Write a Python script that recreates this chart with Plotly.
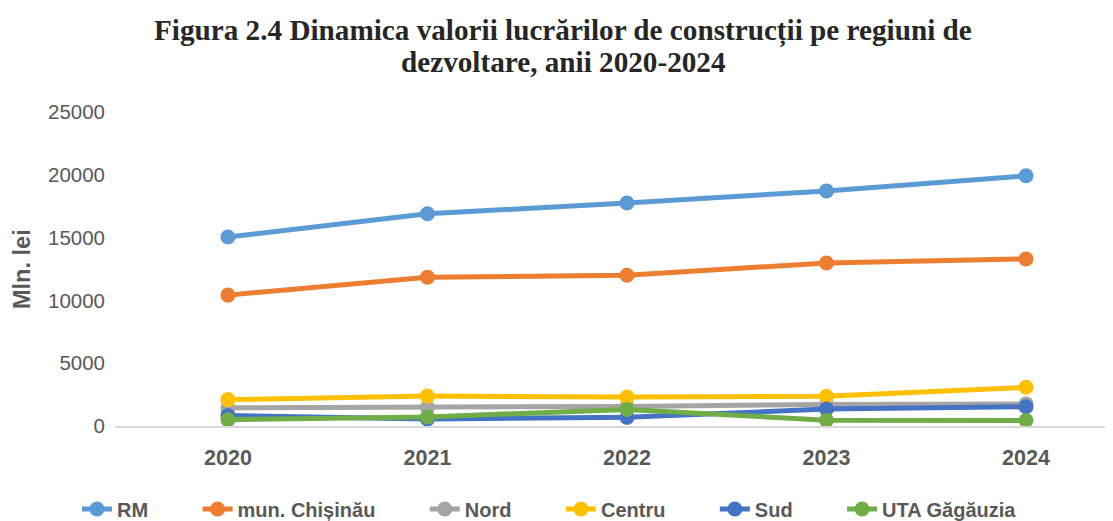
import plotly.graph_objects as go

# ── Data ──────────────────────────────────────────────────────────────────────
years = [2020, 2021, 2022, 2023, 2024]
rm = [15050, 16900, 17750, 18720, 19920]
chisinau = [10420, 11850, 12000, 12980, 13300]
nord = [1450, 1460, 1560, 1720, 1760]
centru = [2100, 2380, 2300, 2360, 3080]
sud = [830, 560, 690, 1350, 1530]
uta = [500, 720, 1320, 460, 440]

series = [
    ("RM", rm, "#5B9BD5"),
    ("mun. Chișinău", chisinau, "#ED7D31"),
    ("Nord", nord, "#A5A5A5"),
    ("Centru", centru, "#FFC000"),
    ("Sud", sud, "#4472C4"),
    ("UTA Găgăuzia", uta, "#70AD47"),
]

# page body has an 8px default margin, so the figure is 8px smaller
W, H = 1105, 513
PAD = "\u00a0" * 8

fig = go.Figure()
for i, (name, vals, color) in enumerate(series):
    label = name if i == len(series) - 1 else name + PAD
    fig.add_trace(go.Scatter(
        x=years, y=vals, name=label, mode="lines+markers",
        line=dict(color=color, width=5),
        marker=dict(color=color, size=15),
    ))

fig.update_layout(
    width=W, height=H,
    margin=dict(l=107, r=0, t=104, b=95, autoexpand=False),
    plot_bgcolor="white", paper_bgcolor="white",
    font=dict(family="Liberation Sans, Arial, sans-serif", color="#595959", size=20.5),
    legend=dict(
        orientation="h", xref="container", yref="container",
        x=69 / W, xanchor="left", y=12 / H, yanchor="middle",
        font=dict(size=20, color="#595959", weight="bold"),
        itemwidth=30, tracegroupgap=0,
    ),
    showlegend=True,
)

# title, two lines placed separately to get the tight line spacing
title_font = dict(family="Liberation Serif, Times New Roman, serif", size=29.2, color="#262626")
for txt, ypx in [("Figura 2.4 Dinamica valorii lucrărilor de construcții pe regiuni de", 23),
                 ("dezvoltare, anii 2020-2024", 54)]:
    fig.add_annotation(
        text=f"<b>{txt}</b>", xref="paper", yref="paper",
        x=(555 - 107) / 998, y=(H - 95 - ypx) / (H - 199),
        xanchor="center", yanchor="middle", showarrow=False, font=title_font,
    )

fig.update_xaxes(
    range=[2019.434, 2024.436],
    tickvals=years, ticktext=[f"<b>{y}</b>" for y in years],
    showgrid=False, zeroline=False,
    showline=True, linecolor="#D9D9D9", linewidth=1.5,
    ticks="", ticklabelstandoff=11, tickfont=dict(size=21.5),
)
fig.update_yaxes(
    range=[0, 25000], dtick=5000, tickformat="d",
    showgrid=False, zeroline=False, showline=False,
    ticks="", ticklabelstandoff=9,
)

fig.add_annotation(
    text="<b>Mln. lei</b>", textangle=-90,
    xref="paper", yref="paper", x=-0.0932, y=0.5,
    xanchor="center", yanchor="middle", showarrow=False,
    font=dict(size=23.5, color="#595959"),
)

fig.write_html("out.html")
